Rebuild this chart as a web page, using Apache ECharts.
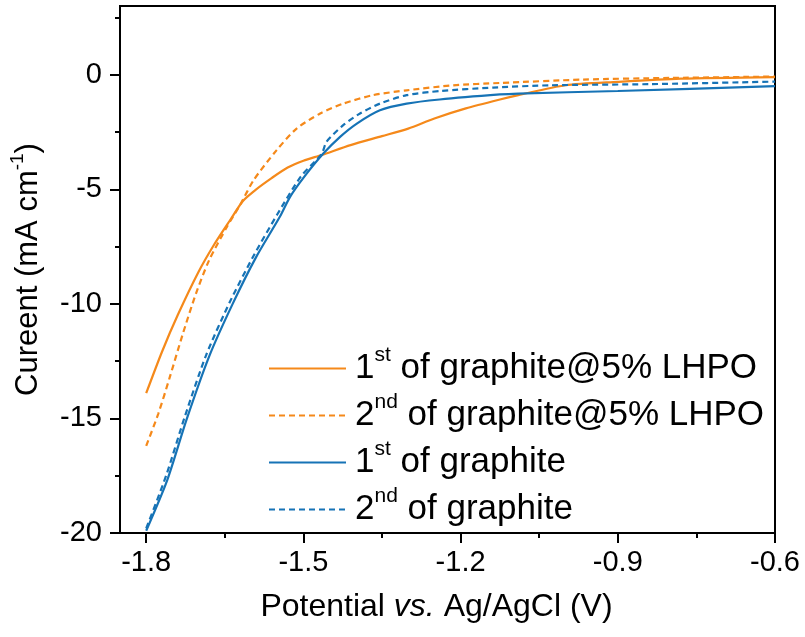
<!DOCTYPE html>
<html>
<head>
<meta charset="utf-8">
<script src="https://cdn.jsdelivr.net/npm/echarts@6/dist/echarts.min.js"></script>
<style>
  html, body { margin: 0; padding: 0; background: #fff; }
  #main { width: 805px; height: 637px; }
</style>
</head>
<body>
<div id="main"></div>
<script>
// 数据: LSV 曲线
var seriesNames = ['1st of graphite@5% LHPO', '2nd of graphite@5% LHPO', '1st of graphite', '2nd of graphite'];
var seriesColors = ['#F5891A', '#F5891A', '#1673B6', '#1673B6'];

var lhpo1V = [-1.80, -1.77, -1.74, -1.70, -1.67, -1.64, -1.615, -1.59, -1.56, -1.53, -1.50, -1.465, -1.41, -1.35, -1.30, -1.25, -1.19, -1.125, -1.09, -1.00, -0.90, -0.78, -0.60];
var lhpo1I = [-13.9, -12.1, -10.5, -8.6, -7.4, -6.35, -5.5, -5.0, -4.5, -4.05, -3.75, -3.5, -3.07, -2.68, -2.35, -1.91, -1.47, -1.08, -0.89, -0.46, -0.31, -0.17, -0.1];

var lhpo2V = [-1.80, -1.777, -1.755, -1.73, -1.705, -1.68, -1.645, -1.62, -1.595, -1.551, -1.513, -1.468, -1.424, -1.367, -1.303, -1.214, -1.125, -0.966, -0.80, -0.60];
var lhpo2I = [-16.2, -14.8, -13.2, -11.3, -9.55, -8.1, -6.6, -5.65, -4.6, -3.29, -2.35, -1.69, -1.26, -0.89, -0.68, -0.46, -0.36, -0.21, -0.14, -0.08];

var gr1V = [-1.80, -1.76, -1.723, -1.68, -1.635, -1.59, -1.545, -1.526, -1.50, -1.462, -1.43, -1.398, -1.354, -1.303, -1.24, -1.125, -1.09, -0.90, -0.60];
var gr1I = [-19.9, -17.7, -15.05, -12.3, -10.0, -7.95, -6.2, -5.35, -4.5, -3.44, -2.71, -2.13, -1.55, -1.26, -1.08, -0.86, -0.82, -0.71, -0.5];

var gr2V = [-1.80, -1.762, -1.726, -1.685, -1.64, -1.595, -1.55, -1.505, -1.465, -1.456, -1.424, -1.392, -1.354, -1.303, -1.239, -1.138, -1.029, -0.839, -0.60];
var gr2I = [-19.8, -17.5, -14.9, -12.2, -9.9, -7.9, -6.1, -4.45, -3.45, -2.93, -2.20, -1.69, -1.26, -0.89, -0.71, -0.56, -0.46, -0.41, -0.3];

// 刻度
var xMajorTicks = [-1.8, -1.5, -1.2, -0.9, -0.6];
var xMinorTicks = [-1.65, -1.35, -1.05, -0.75];
var yMajorTicks = [0, -5, -10, -15, -20];
var yMinorTicks = [2.5, -2.5, -7.5, -12.5, -17.5];

function zip(xs, ys) {
	var out = [];
	for (var i = 0; i < xs.length; i++) {
		out.push([xs[i], ys[i]]);
	}
	return out;
}

var seriesData = [zip(lhpo1V, lhpo1I), zip(lhpo2V, lhpo2I), zip(gr1V, gr1I), zip(gr2V, gr2I)];
var dashed = [false, true, false, true];

var chart = echarts.init(document.getElementById('main'));

var fontFamily = '"Liberation Sans", Arial, sans-serif';

var option = {
	animation: false,
	backgroundColor: '#fff',
	textStyle: { fontFamily: fontFamily },
	//网格
	grid: {
		left: 120,
		right: 30,
		top: 6,
		bottom: 104,
		show: true,
		borderColor: '#000',
		borderWidth: 2
	},
	//图例
	legend: {
		orient: 'vertical',
		left: 268,
		top: 345,
		padding: 0,
		itemGap: 0,
		itemWidth: 77,
		itemHeight: 14,
		data: seriesNames,
		itemStyle: { opacity: 0 },
		formatter: function (name) {
			var m = name.match(/^(\d)(st|nd)(.*)$/);
			return '{b|' + m[1] + '}{s|' + m[2] + '}{b|' + m[3] + '}';
		},
		textStyle: {
			color: '#000',
			fontSize: 35,
			lineHeight: 47,
			padding: [0, 0, 0, 4],
			rich: {
				b: { fontSize: 35, lineHeight: 47, color: '#000', fontFamily: fontFamily },
				s: { fontSize: 21, lineHeight: 27, verticalAlign: 'top', color: '#000', fontFamily: fontFamily }
			}
		}
	},
	//x轴
	xAxis: [{
		type: 'value',
		min: -1.85,
		max: -0.6,
		position: 'bottom',
		name: '{a|Potential }{i|vs.}{a| Ag/AgCl (V)}',
		nameLocation: 'middle',
		nameGap: 58,
		nameTextStyle: {
			padding: [0, 22, 0, 0],
			rich: {
				a: { fontSize: 32, color: '#000', fontFamily: fontFamily },
				i: { fontSize: 32, color: '#000', fontStyle: 'italic', fontFamily: fontFamily }
			}
		},
		splitLine: { show: false },
		axisLine: { show: true, onZero: false, lineStyle: { color: '#000', width: 2 } },
		axisTick: { show: true, inside: false, length: 10, customValues: xMajorTicks, lineStyle: { color: '#000', width: 2 } },
		axisLabel: { show: true, customValues: xMajorTicks, margin: 15, fontSize: 29, color: '#000' }
	}, {
		type: 'value',
		min: -1.85,
		max: -0.6,
		position: 'bottom',
		splitLine: { show: false },
		axisLine: { show: false, onZero: false },
		axisTick: { show: true, inside: false, length: 5, customValues: xMinorTicks, lineStyle: { color: '#000', width: 2 } },
		axisLabel: { show: false }
	}],
	//y轴
	yAxis: [{
		type: 'value',
		min: -20,
		max: 3,
		position: 'left',
		name: 'Cureent (mA cm{s|-1})',
		nameLocation: 'middle',
		nameGap: 72,
		nameTextStyle: {
			fontSize: 31,
			color: '#000',
			lineHeight: 40,
			rich: {
				s: { fontSize: 19, lineHeight: 24, verticalAlign: 'top', color: '#000', fontFamily: fontFamily }
			}
		},
		splitLine: { show: false },
		axisLine: { show: true, onZero: false, lineStyle: { color: '#000', width: 2 } },
		axisTick: { show: true, inside: false, length: 10, customValues: yMajorTicks, lineStyle: { color: '#000', width: 2 } },
		axisLabel: { show: true, customValues: yMajorTicks, margin: 18, fontSize: 29, color: '#000' }
	}, {
		type: 'value',
		min: -20,
		max: 3,
		position: 'left',
		splitLine: { show: false },
		axisLine: { show: false, onZero: false },
		axisTick: { show: true, inside: false, length: 5, customValues: yMinorTicks, lineStyle: { color: '#000', width: 2 } },
		axisLabel: { show: false }
	}],
	//系列列表
	series: seriesNames.map(function (name, i) {
		return {
			name: name,
			type: 'line',
			xAxisIndex: 0,
			yAxisIndex: 0,
			data: seriesData[i],
			symbol: 'none',
			smooth: 0.25,
			clip: true,
			color: seriesColors[i],
			lineStyle: {
				color: seriesColors[i],
				width: 2.2,
				type: dashed[i] ? [6, 4] : 'solid'
			}
		};
	})
};

chart.setOption(option);
</script>
</body>
</html>
